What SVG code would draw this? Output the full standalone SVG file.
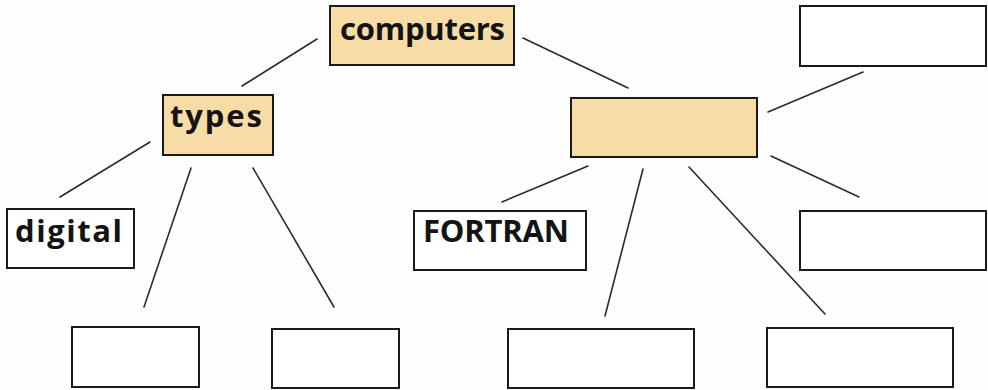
<svg xmlns="http://www.w3.org/2000/svg" width="988" height="390" viewBox="0 0 988 390">
  <style>
    .box { fill: #ffffff; stroke: #1a1a1a; stroke-width: 2; }
    .key { fill: #f7dca6; }
    .lbl { font-family: "Open Sans", "Noto Sans", sans-serif; font-weight: 700; font-size: 31px; fill: #141414; }
    .conn line { stroke: #2b2b2b; stroke-width: 1.6; stroke-linecap: round; }
  </style>
  <rect width="988" height="390" fill="#fefefe"/>

  <!-- connectors -->
  <g id="connectors" class="conn">
    <line x1="317" y1="39" x2="242" y2="86"/>
    <line x1="523" y1="38" x2="628" y2="88"/>
    <line x1="150" y1="142" x2="60" y2="197"/>
    <line x1="191" y1="168" x2="144" y2="307"/>
    <line x1="253" y1="168" x2="334" y2="307"/>
    <line x1="768" y1="112" x2="863" y2="72"/>
    <line x1="771" y1="156" x2="859" y2="197"/>
    <line x1="588" y1="166" x2="502" y2="202"/>
    <line x1="643" y1="169" x2="605" y2="316"/>
    <line x1="689" y1="167" x2="825" y2="314"/>
  </g>

  <!-- nodes -->
  <g id="computers">
    <rect class="box key" x="330" y="6" width="184" height="59"/>
    <text class="lbl" x="340" y="40" textLength="165" lengthAdjust="spacing">computers</text>
  </g>
  <g id="types">
    <rect class="box key" x="163" y="95" width="110" height="60"/>
    <text class="lbl" x="170" y="127" textLength="92" lengthAdjust="spacing">types</text>
  </g>
  <g id="languages">
    <rect class="box key" x="571" y="98" width="186" height="59"/>
  </g>
  <g id="top-right">
    <rect class="box" x="800" y="6" width="186" height="60"/>
  </g>
  <g id="digital">
    <rect class="box" x="7" y="209" width="127" height="59"/>
    <text class="lbl" x="15" y="242" textLength="107" lengthAdjust="spacing">digital</text>
  </g>
  <g id="fortran">
    <rect class="box" x="414" y="211" width="172" height="59"/>
    <text class="lbl" x="423" y="242" textLength="146" lengthAdjust="spacing">FORTRAN</text>
  </g>
  <g id="right-middle">
    <rect class="box" x="800" y="211" width="186" height="59"/>
  </g>
  <g id="bottom-1">
    <rect class="box" x="72" y="327" width="127" height="60"/>
  </g>
  <g id="bottom-2">
    <rect class="box" x="272" y="329" width="127" height="59"/>
  </g>
  <g id="bottom-3">
    <rect class="box" x="508" y="329" width="186" height="59"/>
  </g>
  <g id="bottom-4">
    <rect class="box" x="767" y="328" width="186" height="59"/>
  </g>
</svg>
